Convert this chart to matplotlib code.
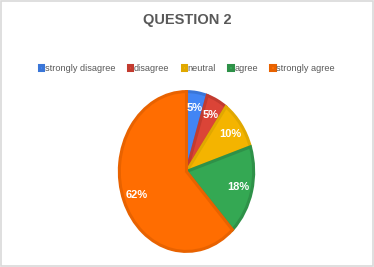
import matplotlib
matplotlib.use("Agg")
import matplotlib.pyplot as plt
from matplotlib.patches import Rectangle

categories = ["strongly disagree", "disagree", "neutral", "agree", "strongly agree"]
values = [5, 5, 10, 18, 62]
colors = ["#4285F4", "#DB4437", "#F4B400", "#34A853", "#FF6D01"]
edges = ["#3A76D8", "#C23B2F", "#E0A800", "#2E9148", "#E86200"]

plt.rcParams["font.family"] = ["Liberation Sans", "DejaVu Sans"]

fig = plt.figure(figsize=(3.74, 2.67), dpi=100)
fig.patch.set_facecolor("white")
fig.patches.append(Rectangle((0.002, 0.003), 0.995, 0.993, transform=fig.transFigure,
                             fill=False, edgecolor="#D9D9D9", linewidth=1.2))

ax = fig.add_axes([118 / 374, 14 / 267, 137 / 374, 163 / 267])
wedges, texts, autotexts = ax.pie(
    values, colors=colors, startangle=90, counterclock=False,
    autopct="%1.0f%%", pctdistance=0.8, radius=1,
    wedgeprops=dict(linewidth=2.2),
    textprops=dict(color="white", fontsize=8, fontweight="bold"),
)
for w, ec in zip(wedges, edges):
    w.set_edgecolor(ec)
ax.set_aspect("auto")
ax.set_xlim(-1.02, 1.02)
ax.set_ylim(-1.02, 1.02)
ax.axis("off")

fig.text(0.5, 0.925, "QUESTION 2", ha="center", va="center",
         fontsize=10.5, fontweight="bold", color="#595959")

fig.legend(wedges, categories, loc="center", bbox_to_anchor=(0.5, 0.745),
           ncol=5, frameon=False, fontsize=6.6, handlelength=0.45, handleheight=0.45,
           handletextpad=0.2, columnspacing=1.35, labelcolor="#595959")

fig.savefig("out.png", dpi=100)
